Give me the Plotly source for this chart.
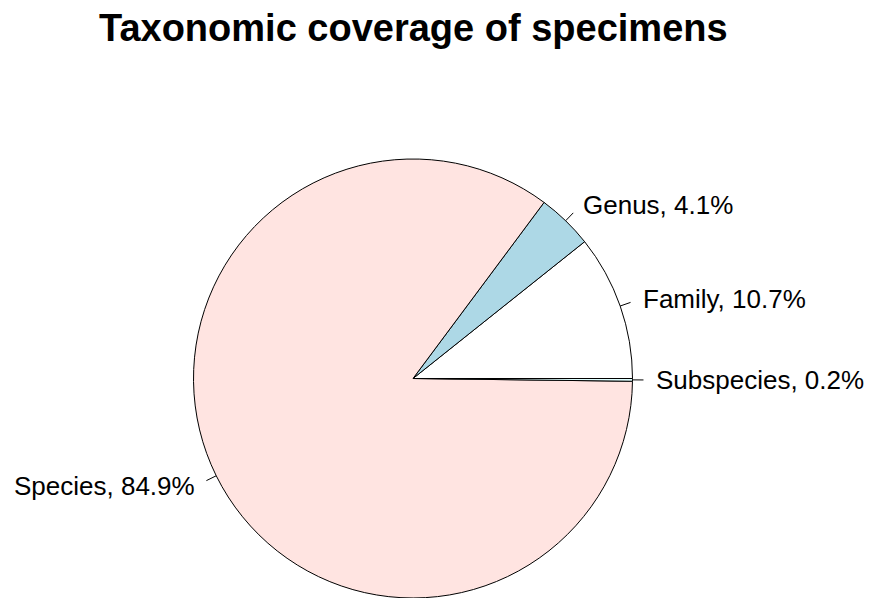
import math
import plotly.graph_objects as go

# Data
categories = ["Family", "Genus", "Species", "Subspecies"]
percentages = [10.7, 4.1, 84.9, 0.2]
colors = ["#FFFFFF", "#ADD8E6", "#FFE4E1", "#E0FFFF"]

W, H = 870, 598
CX, CY, R = 413.0, 378.5, 219.5  # pie centre / radius in pixels

total = sum(percentages)
# plotly's counterclockwise pies place the first slice clockwise of `rotation`,
# so shift by the first slice's angle to start it at 3 o'clock going anticlockwise
rotation = 90 - percentages[0] / total * 360

fig = go.Figure()

fig.add_trace(go.Pie(
    labels=categories,
    values=percentages,
    sort=False,
    direction="counterclockwise",
    rotation=rotation,
    marker=dict(colors=colors, line=dict(color="black", width=1)),
    textinfo="none",
    hoverinfo="label+percent",
    showlegend=False,
    domain=dict(x=[(CX - R) / W, (CX + R) / W], y=[0, 2 * R / H]),
))

# Outside labels with short tick lines at each slice's mid-angle
cum = 0.0
shapes = []
annotations = []
for name, v in zip(categories, percentages):
    mid = (cum + v / 2) / total * 2 * math.pi
    cum += v
    c, s = math.cos(mid), math.sin(mid)
    shapes.append(dict(type="line", xref="x", yref="y",
                       x0=CX + R * c, y0=CY - R * s,
                       x1=CX + 1.05 * R * c, y1=CY - 1.05 * R * s,
                       line=dict(color="black", width=1)))
    annotations.append(dict(x=CX + 1.1 * R * c, y=CY - 1.1 * R * s,
                            xref="x", yref="y",
                            text=f"{name}, {v}%", showarrow=False,
                            xanchor="right" if c < 0 else "left",
                            yanchor="middle",
                            font=dict(family="Liberation Sans, Arial", size=26, color="black")))

annotations.append(dict(x=CX, y=28, xref="x", yref="y",
                        text="<b>Taxonomic coverage of specimens</b>",
                        showarrow=False, xanchor="center", yanchor="middle",
                        font=dict(family="Liberation Sans, Arial", size=38, color="black")))

fig.update_layout(
    width=W, height=H,
    margin=dict(l=0, r=0, t=0, b=0),
    paper_bgcolor="white", plot_bgcolor="rgba(0,0,0,0)",
    xaxis=dict(range=[0, W], visible=False, fixedrange=True),
    yaxis=dict(range=[H, 0], visible=False, fixedrange=True),
    shapes=shapes,
    annotations=annotations,
)

fig.write_html("out.html")
